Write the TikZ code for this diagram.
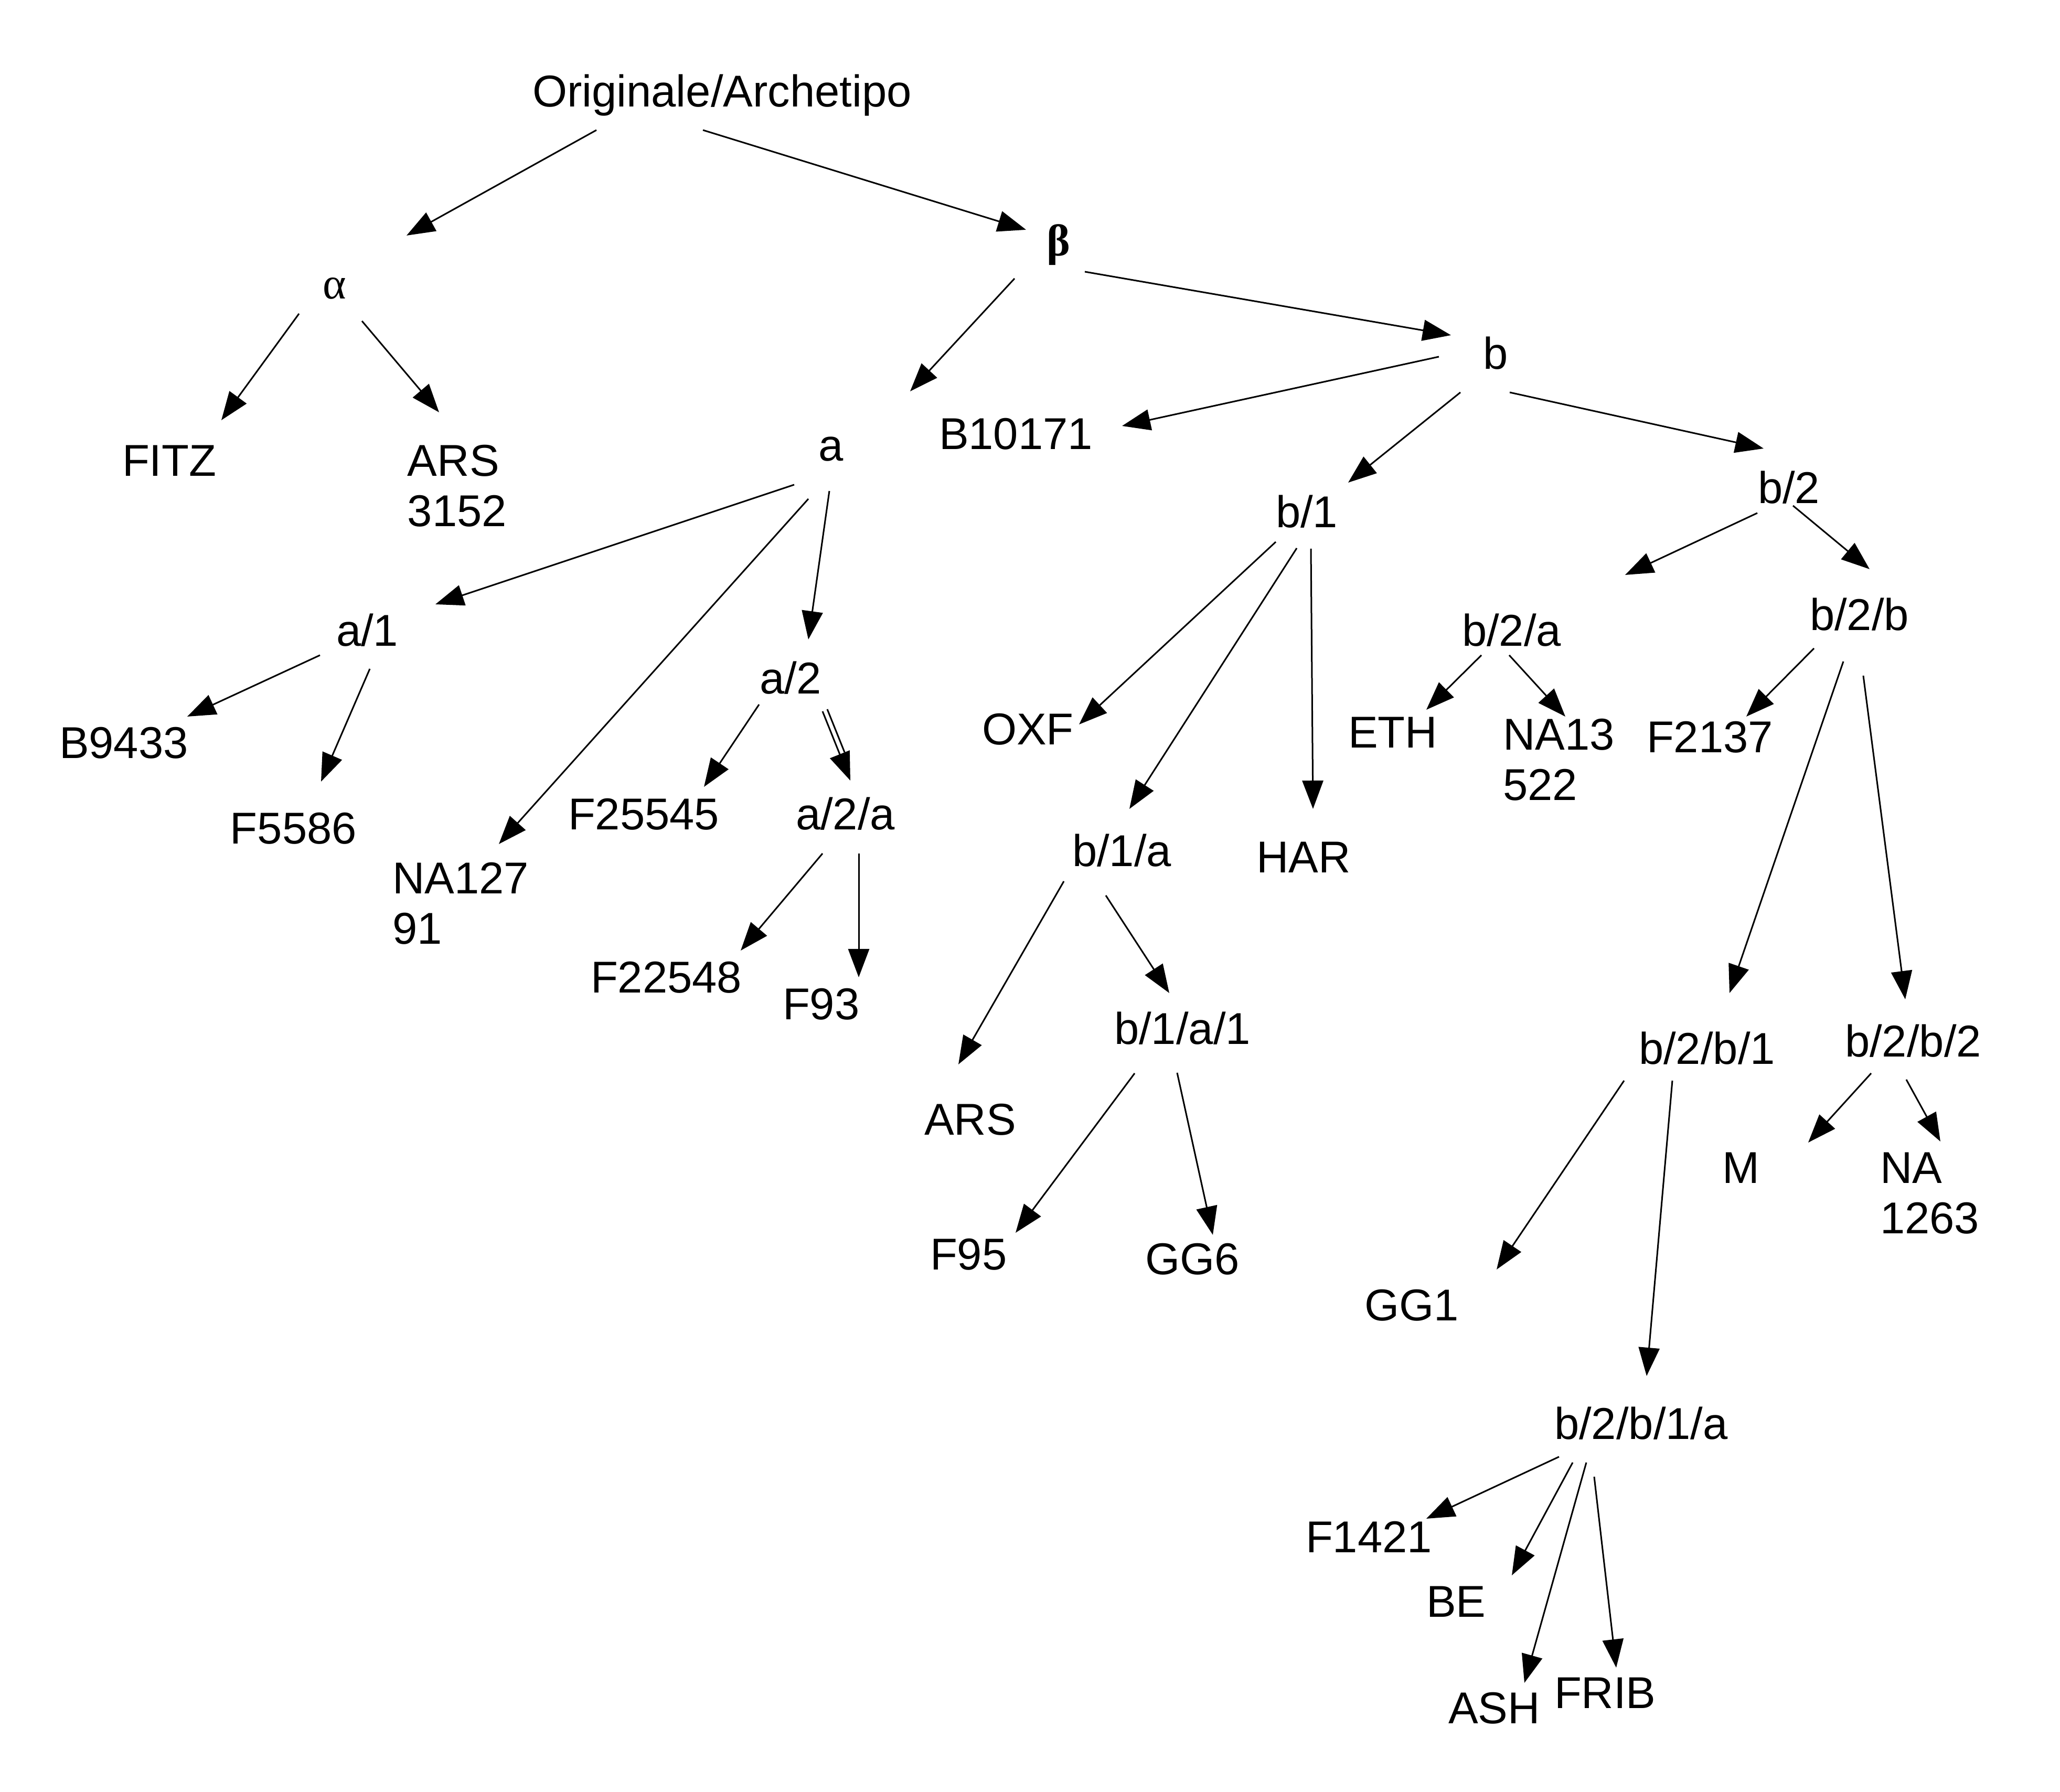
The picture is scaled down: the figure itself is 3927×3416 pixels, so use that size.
\documentclass[tikz,border=0pt]{standalone}
\usepackage{fontspec}
\setmainfont{Liberation Sans}
\newfontfamily\greekfont{Liberation Serif}
\usetikzlibrary{arrows.meta}

% two-line siglum, baseline on the first line
\newcommand\twoline[2]{\vtop{\hbox{#1}\hbox{#2}}}
% connector between two sigla, each end given as an offset from the node's base west anchor
\newcommand\conn[4]{\draw[arr] ([shift={(#2)}]#1.base west) -- ([shift={(#4)}]#3.base west);}

\begin{document}
\begin{tikzpicture}[x=0.1pt,y=-0.1pt,
  siglum/.style={inner sep=0pt,outer sep=0pt,anchor=base west,
                 font=\fontsize{8.5}{9.6}\selectfont},
  greek/.style={siglum,font=\fontsize{8.5}{9.6}\greekfont},
  arr/.style={line width=0.3pt,-{Triangle[length=5.4pt,width=4pt]}},
  plain/.style={line width=0.3pt}]

\path[fill=white] (0,0) rectangle (3927,3416);
\useasboundingbox (0,0) rectangle (3927,3416);

% ---- sigla ----
\node[siglum] (orig) at (1015,204) {Originale/Archetipo};
\node[greek] (alpha) at (616,570) {α};
\node[greek,font=\fontsize{8.5}{9.6}\greekfont\bfseries] (beta) at (1995,488) {β};

\node[siglum] (fitz) at (233,908) {FITZ};
\node[siglum] (ars1) at (777,908) {\twoline{ARS}{3152}};

\node[siglum] (a) at (1560,879) {a};
\node[siglum] (b10171) at (1790,857) {B10171};
\node[siglum] (b) at (2827,704) {b};

\node[siglum] (a1) at (641,1232) {a/1};
\node[siglum] (a2) at (1448,1323) {a/2};
\node[siglum] (b9433) at (113,1446) {B9433};
\node[siglum] (f5586) at (439,1609) {F5586};
\node[siglum] (na127) at (748,1704) {\twoline{NA127}{91}};
\node[siglum] (f25545) at (1083,1582) {F25545};
\node[siglum] (a2a) at (1517,1582) {a/2/a};
\node[siglum] (f22548) at (1126,1893) {F22548};
\node[siglum] (f93) at (1492,1944) {F93};

\node[siglum] (b1) at (2432,1006) {b/1};
\node[siglum] (oxf) at (1872,1420) {OXF};
\node[siglum] (b1a) at (2044,1652) {b/1/a};
\node[siglum] (har) at (2395,1664) {HAR};
\node[siglum] (ars2) at (1762,2164) {ARS};
\node[siglum] (b1a1) at (2124,1991) {b/1/a/1};
\node[siglum] (f95) at (1773,2421) {F95};
\node[siglum] (gg6) at (2183,2430) {GG6};

\node[siglum] (b2) at (3351,960) {b/2};
\node[siglum] (b2a) at (2787,1232) {b/2/a};
\node[siglum] (eth) at (2570,1426) {ETH};
\node[siglum] (na13) at (2865,1430) {\twoline{NA13}{522}};
\node[siglum] (b2b) at (3450,1202) {b/2/b};
\node[siglum] (f2137) at (3139,1435) {F2137};
\node[siglum] (b2b1) at (3124,2029) {b/2/b/1};
\node[siglum] (b2b2) at (3517,2015) {b/2/b/2};
\node[siglum] (m) at (3283,2256) {M};
\node[siglum] (na) at (3584,2256) {\twoline{NA}{1263}};
\node[siglum] (gg1) at (2601,2518) {GG1};
\node[siglum] (b2b1a) at (2963,2744) {b/2/b/1/a};
\node[siglum] (f1421) at (2489,2960) {F1421};
\node[siglum] (be) at (2719,3083) {BE};
\node[siglum] (ash) at (2761,3286) {ASH};
\node[siglum] (frib) at (2963,3257) {FRIB};

% ---- connectors ----
\conn{orig}{122,44}{alpha}{159,-121}
\conn{orig}{325,44}{beta}{-39,-50}
\conn{alpha}{-46,28}{fitz}{189,-107}
\conn{alpha}{74,42}{ars1}{60,-122}
\conn{beta}{-61,43}{a}{175,-133}
\conn{beta}{73,30}{b}{-61,-65}
\conn{b}{-84,-24}{b10171}{349,-45}
\conn{b}{-43,44}{b1}{138,-86}
\conn{b}{51,44}{b2}{11,-105}

\conn{a}{-46,45}{a1}{189,-80}
\conn{a}{-19,72}{na127}{203,-95}
\conn{a}{21,57}{a2}{93,-104}
\conn{a1}{-31,17}{b9433}{244,-80}
\conn{a1}{64,43}{f5586}{173,-119}
\conn{a2}{-1,20}{f25545}{259,-82}
\conn{a2}{120,33}{a2a}{104,-94}
\draw[plain] ([shift={(129,29)}]a2.base west) -- ([shift={(93,-148)}]a2a.base west);
\conn{a2a}{51,45}{f22548}{286,-81}
\conn{a2a}{120,45}{f93}{145,-81}

\conn{b1}{0,27}{oxf}{185,-39}
\conn{b1}{40,39}{b1a}{109,-110}
\conn{b1}{67,40}{har}{108,-122}
\conn{b1a}{-16,28}{ars2}{65,-135}
\conn{b1a}{64,55}{b1a1}{105,-98}
\conn{b1a1}{39,55}{f95}{163,-71}
\conn{b1a1}{120,54}{gg6}{129,-76}

\conn{b2}{-1,18}{b2a}{311,-136}
\conn{b2}{67,4}{b2b}{114,-117}
\conn{b2a}{37,17}{eth}{149,-73}
\conn{b2a}{90,17}{na13}{119,-64}
\conn{b2b}{8,34}{f2137}{190,-69}
\conn{b2b}{64,59}{b2b1}{173,-136}
\conn{b2b}{102,86}{b2b2}{115,-110}
\conn{b2b2}{50,31}{m}{164,-78}
\conn{b2b2}{117,43}{na}{115,-80}
\conn{b2b1}{-28,31}{gg1}{252,-98}
\conn{b2b1}{64,31}{b2b1a}{176,-121}
\conn{b2b1a}{9,33}{f1421}{230,-65}
\conn{b2b1a}{35,44}{be}{163,-80}
\conn{b2b1a}{61,44}{ash}{145,-78}
\conn{b2b1a}{76,71}{frib}{118,-78}

\end{tikzpicture}
\end{document}
